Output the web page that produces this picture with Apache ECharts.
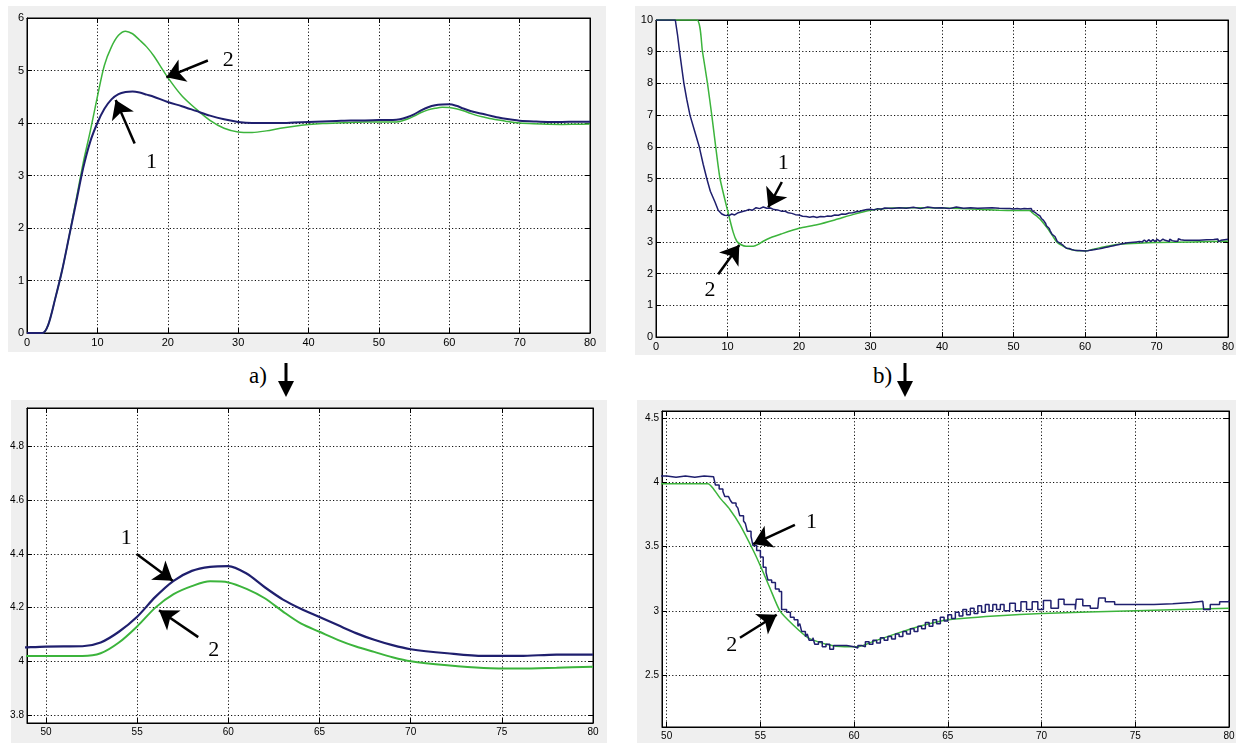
<!DOCTYPE html>
<html>
<head>
<meta charset="utf-8">
<script src="https://cdn.jsdelivr.net/npm/echarts@6/dist/echarts.min.js"></script>
<style>
  body { margin: 0; background: #fff; }
  .panel { position: absolute; background: #efefef; }
  .cap { position: absolute; font-family: 'Liberation Serif', 'Times New Roman', serif; font-size: 23px; color: #000; }
  #chart { position: absolute; left: 0; top: 0; width: 1236px; height: 743px; }
</style>
</head>
<body>
<div class="panel" style="left:8px;top:6px;width:598px;height:346px"></div>
<div class="panel" style="left:635px;top:6px;width:601px;height:349px"></div>
<div class="panel" style="left:11px;top:400px;width:596px;height:343px"></div>
<div class="panel" style="left:637px;top:400px;width:599px;height:343px"></div>

<div class="cap" style="left:249px;top:363px">a)</div>
<svg style="position:absolute;left:278px;top:363px" width="16" height="34"><line x1="8" y1="0" x2="8" y2="20" stroke="#000" stroke-width="3"/><polygon points="0,18 16,18 8,34" fill="#000"/></svg>
<div class="cap" style="left:873px;top:363px">b)</div>
<svg style="position:absolute;left:897px;top:363px" width="16" height="34"><line x1="8" y1="0" x2="8" y2="20" stroke="#000" stroke-width="3"/><polygon points="0,18 16,18 8,34" fill="#000"/></svg>

<div id="chart"></div>

<script>
// a) — общая временная сетка для обеих кривых
const aTime = [0, 2.2, 3, 4, 5, 6, 7, 8, 9, 10, 11, 12, 13, 14, 15, 16, 17, 18,
  20, 22, 24, 26, 28, 30, 32, 34, 36, 38, 40, 42, 44, 46, 48, 50, 52,
  53, 54, 55, 56, 57, 58, 59, 60, 61, 62, 63, 64, 65, 66, 67, 68, 69, 70,
  72, 74, 76, 78, 80]
const aCurve1 = [0, 0, 0.15, 0.65, 1.2, 1.85, 2.5, 3.15, 3.65, 4.0, 4.27, 4.45, 4.55, 4.59, 4.6, 4.58, 4.54, 4.5,
  4.4, 4.32, 4.23, 4.14, 4.07, 4.02, 4.0, 4.0, 4.0, 4.01, 4.02, 4.03, 4.04, 4.05, 4.05, 4.055, 4.056,
  4.07, 4.11, 4.166, 4.24, 4.3, 4.337, 4.352, 4.355, 4.327, 4.276, 4.23, 4.195, 4.165, 4.135, 4.105, 4.08, 4.06, 4.045,
  4.03, 4.02, 4.02, 4.025, 4.025]
const aCurve2 = [0, 0, 0.15, 0.65, 1.2, 1.85, 2.55, 3.25, 3.85, 4.5, 5.1, 5.45, 5.67, 5.75, 5.7, 5.58, 5.45, 5.28,
  4.87, 4.52, 4.27, 4.05, 3.9, 3.83, 3.82, 3.85, 3.9, 3.94, 3.97, 3.99, 4.0, 4.01, 4.02, 4.02, 4.02,
  4.03, 4.07, 4.13, 4.2, 4.25, 4.28, 4.298, 4.294, 4.27, 4.235, 4.185, 4.14, 4.11, 4.08, 4.055, 4.035, 4.015, 4.0,
  3.985, 3.975, 3.973, 3.976, 3.98]

// b) — [время, значение]
const bCurve1 = [[0, 10], [2.7, 10], [3.0, 9.55], [3.3, 9.0], [3.6, 8.5], [3.9, 8.0], [4.3, 7.5], [4.75, 7.0],
  [5.4, 6.5], [6.05, 6.0], [6.6, 5.45], [7.1, 5.0], [7.6, 4.6], [8.25, 4.26], [8.7, 4.0], [9.2, 3.88],
  [9.6, 3.84], [10.2, 3.83], [10.6, 3.88], [11, 3.85], [11.5, 3.92], [12, 3.95], [12.5, 3.98], [13, 4.02],
  [13.5, 4.0], [14, 4.08], [14.5, 4.05], [15, 4.1], [15.5, 4.06], [16, 4.07], [16.5, 4.02], [17, 4.01],
  [17.5, 3.97], [18, 3.97], [18.5, 3.92], [19, 3.9], [19.5, 3.86], [20, 3.85], [20.5, 3.81], [21, 3.8],
  [21.5, 3.78], [22, 3.8], [22.5, 3.77], [23, 3.8], [23.5, 3.79], [24, 3.82], [24.5, 3.81], [25, 3.85],
  [25.5, 3.84], [26, 3.88], [26.5, 3.87], [27, 3.91], [27.5, 3.92], [28, 3.95], [28.5, 3.97], [29, 4.0],
  [29.5, 4.02], [30, 4.03], [30.5, 4.01], [31, 4.05], [31.5, 4.03], [32, 4.07], [33, 4.05], [34, 4.08],
  [35, 4.06], [36, 4.09], [37, 4.05], [38, 4.1], [39, 4.07], [40, 4.08], [41, 4.05], [42, 4.1], [43, 4.06],
  [44, 4.08], [45, 4.06], [46, 4.07], [47, 4.08], [48, 4.06], [49, 4.05], [49.5, 4.05], [50, 4.04],
  [50.5, 4.05], [51, 4.04], [51.5, 4.05], [52, 4.045], [52.5, 4.05], [52.6, 3.98], [52.8, 3.95], [53, 3.93],
  [53.1, 3.89], [53.3, 3.88], [53.4, 3.86], [53.5, 3.84], [53.7, 3.82], [53.8, 3.8], [53.9, 3.74], [54.1, 3.7],
  [54.2, 3.68], [54.3, 3.62], [54.5, 3.58], [54.6, 3.51], [54.8, 3.47], [55, 3.42], [55.15, 3.34], [55.3, 3.3],
  [55.4, 3.24], [55.6, 3.22], [55.8, 3.17], [56, 3.15], [56.13, 3.01], [56.4, 2.99], [56.6, 2.95], [56.8, 2.93],
  [57, 2.88], [57.1, 2.9], [57.2, 2.84], [57.4, 2.8], [57.5, 2.82], [57.6, 2.77], [57.8, 2.79], [57.9, 2.74],
  [58.1, 2.76], [58.3, 2.72], [58.5, 2.74], [58.7, 2.7], [58.9, 2.73], [59.2, 2.73], [59.6, 2.72], [60, 2.71],
  [60.2, 2.73], [60.4, 2.72], [60.6, 2.76], [60.8, 2.74], [61, 2.77], [61.2, 2.75], [61.4, 2.79], [61.6, 2.77],
  [61.8, 2.8], [62, 2.78], [62.2, 2.82], [62.4, 2.8], [62.6, 2.84], [62.8, 2.82], [63, 2.86], [63.2, 2.84],
  [63.4, 2.88], [63.6, 2.86], [63.8, 2.91], [64, 2.88], [64.2, 2.93], [64.4, 2.9], [64.6, 2.95], [64.8, 2.92],
  [65, 2.97], [65.2, 2.94], [65.4, 2.99], [65.6, 2.96], [65.8, 3.01], [66, 2.97], [66.2, 3.02], [66.4, 2.98],
  [66.6, 3.04], [66.8, 2.99], [67, 3.05], [67.2, 3.0], [67.4, 3.05], [67.6, 3.01], [67.8, 3.05], [68, 3.0],
  [68.3, 3.06], [68.6, 3.0], [68.9, 3.07], [69.2, 3.01], [69.5, 3.07], [69.8, 3.01], [70.1, 3.08], [70.5, 3.02],
  [70.9, 3.09], [71.2, 3.05], [71.8, 3.01], [71.85, 3.09], [72.2, 3.04], [72.6, 3.02], [73.0, 3.02], [73.05, 3.1],
  [73.4, 3.07], [73.9, 3.05], [75, 3.05], [76, 3.055], [77, 3.065], [78, 3.075], [78.6, 3.09], [78.65, 3.01],
  [79, 3.05], [79.5, 3.07], [80, 3.08]]
const bCurve2 = [[0, 10], [5.7, 10], [6.5, 9], [7.2, 8], [7.8, 7], [8.35, 6], [8.95, 5], [10, 4], [10.8, 3.3],
  [11.3, 3.02], [11.9, 2.91], [12.6, 2.86], [13.6, 2.86], [14.3, 2.92], [15, 3.02], [16, 3.13], [17.5, 3.25],
  [20, 3.43], [22.5, 3.54], [25, 3.69], [27.5, 3.86], [30, 4.0], [33, 4.07], [36, 4.08], [40, 4.07], [45, 4.03],
  [48, 4.0], [50, 3.99], [52.2, 3.99], [52.5, 3.95], [52.84, 3.88], [53.37, 3.79], [53.91, 3.67], [54.62, 3.47],
  [55.0, 3.35], [55.5, 3.18], [56.04, 3.0], [56.75, 2.89], [57.55, 2.79], [58.5, 2.74], [59.5, 2.72], [60.2, 2.72],
  [61, 2.76], [62.4, 2.83], [63.5, 2.88], [65, 2.93], [67.5, 2.96], [70, 2.98], [75, 3.0], [80, 3.02]]

// стрелки-указатели: [хвост, острие, подпись, позиция подписи]
const aTopNotes = [[[25.7, 5.19], [19.8, 4.87], '2', [28.6, 5.2]], [[15.3, 3.61], [12.6, 4.44], '1', [17.7, 3.26]]]
const bTopNotes = [[[17.6, 4.89], [15.7, 4.09], '1', [17.8, 5.47]], [[8.7, 1.98], [11.65, 2.9], '2', [7.55, 1.46]]]
const aZoomNotes = [[[54.97, 4.4], [56.95, 4.3], '1', [54.4, 4.46]], [[58.35, 4.09], [56.2, 4.19], '2', [59.2, 4.04]]]
const bZoomNotes = [[[56.84, 3.67], [54.62, 3.52], '1', [57.73, 3.69]], [[53.91, 2.79], [55.87, 2.97], '2', [53.47, 2.73]]]

const BLUE = '#1f1f6e'
const GREEN = '#3cb43c'
const FONT = "'Liberation Sans', Arial, sans-serif"

const makeAxis = (gridIndex, position, min, max, step, main, fontSize) => {
  const axis = {
    type: 'value', gridIndex, position, min, max,
    axisLine: { show: true, onZero: false, lineStyle: { color: '#000', width: 1 } },
    axisTick: { show: true, inside: true, length: 5, lineStyle: { color: '#000' } },
    axisLabel: {
      show: main, color: '#000', fontFamily: FONT, fontSize, margin: 4,
      showMinLabel: step.min !== false, showMaxLabel: step.max !== false,
    },
    splitLine: { show: main, lineStyle: { color: '#111', type: [1.2, 2.2], width: 1 } },
  }
  if (step.interval) axis.interval = step.interval
  else axis.splitNumber = step.split
  return axis
}

const notes = (list) => ({
  markLine: {
    silent: true, animation: false,
    symbol: ['none', 'arrow'], symbolSize: 18,
    itemStyle: { color: '#000' },
    lineStyle: { color: '#000', width: 2.5, type: 'solid' },
    label: { show: false },
    data: list.map((n) => [
      { coord: n[0], symbol: 'none' },
      { coord: n[1], symbol: 'arrow', symbolSize: 18, itemStyle: { color: '#000' } },
    ]),
  },
  markPoint: {
    silent: true, animation: false, symbol: 'circle', symbolSize: 0,
    label: { show: true, position: 'inside', color: '#000', fontFamily: "'Liberation Serif', serif", fontSize: 22, formatter: (p) => p.name },
    data: list.map((n) => ({ name: n[2], coord: n[3] })),
  },
})

const grids = [
  { left: 27, top: 18, width: 563, height: 315 },
  { left: 656, top: 20, width: 572, height: 317 },
  { left: 27, top: 408, width: 566, height: 315 },
  { left: 662, top: 411, width: 567, height: 316 },
].map((g) => ({ ...g, show: true, backgroundColor: '#fff', borderColor: '#000', borderWidth: 1, outerBoundsMode: 'none' }))

const xRanges = [
  [0, 80, { interval: 10 }, 11],
  [0, 80, { interval: 10 }, 11],
  [48.96, 80, { split: 6, min: false }, 10],
  [49.75, 80, { split: 6, min: false }, 10],
]
const yRanges = [
  [0, 6, { interval: 1 }, 11],
  [0, 10, { interval: 1 }, 11],
  [3.77, 4.944, { split: 6, min: false, max: false }, 10],
  [2.095, 4.557, { split: 5, min: false, max: false }, 10],
]

const xAxis = []
const yAxis = []
xRanges.forEach((r, i) => xAxis.push(makeAxis(i, 'bottom', r[0], r[1], r[2], true, r[3])))
xRanges.forEach((r, i) => xAxis.push(makeAxis(i, 'top', r[0], r[1], r[2], false, r[3])))
yRanges.forEach((r, i) => yAxis.push(makeAxis(i, 'left', r[0], r[1], r[2], true, r[3])))
yRanges.forEach((r, i) => yAxis.push(makeAxis(i, 'right', r[0], r[1], r[2], false, r[3])))
yAxis.forEach((a) => { a.axisLabel.margin = 3 })

const aData1 = aTime.map((t, i) => [t, aCurve1[i]])
const aData2 = aTime.map((t, i) => [t, aCurve2[i]])

const line = (idx, data, color, width, extra) => ({
  type: 'line', xAxisIndex: idx, yAxisIndex: idx, data,
  showSymbol: false, symbol: 'none', clip: true,
  lineStyle: { color, width }, ...extra,
})

const instance = echarts.init(document.getElementById('chart'))
instance.setOption({
  animation: false,
  grid: grids,
  xAxis,
  yAxis,
  series: [
    line(0, aData2, GREEN, 1.5, { smooth: 0.3 }),
    line(0, aData1, BLUE, 2, { smooth: 0.3, ...notes(aTopNotes) }),
    line(1, bCurve2, GREEN, 1.5, { smooth: 0.2 }),
    line(1, bCurve1, BLUE, 1.5, { ...notes(bTopNotes) }),
    line(2, aData2, GREEN, 2, { smooth: 0.3 }),
    line(2, aData1, BLUE, 2.2, { smooth: 0.3, ...notes(aZoomNotes) }),
    line(3, bCurve2, GREEN, 1.5, { smooth: 0.2 }),
    line(3, bCurve1, BLUE, 1.5, { step: 'end', ...notes(bZoomNotes) }),
  ],
})
</script>
</body>
</html>
